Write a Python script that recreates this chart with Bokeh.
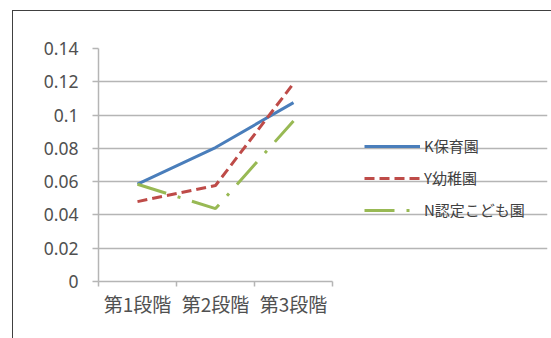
from bokeh.plotting import figure
from bokeh.models import Range1d, FixedTicker, Legend, LegendItem
from bokeh.embed import file_html
from bokeh.resources import INLINE

categories = ["第1段階", "第2段階", "第3段階"]
series_names = ["K保育園", "Y幼稚園", "N認定こども園"]
k_values = [0.0585, 0.0805, 0.1075]
y_values = [0.048, 0.0577, 0.1190]
n_values = [0.0584, 0.0438, 0.0965]
y_ticks = [0, 0.02, 0.04, 0.06, 0.08, 0.1, 0.12, 0.14]
y_tick_labels = ["0", "0.02", "0.04", "0.06", "0.08", "0.1", "0.12", "0.14"]

xs = [i + 1 for i in range(len(categories))]
n_cat = len(categories)

# layout: frame spans 449px, the category area uses 234px of it; legend sits in the rest
frame_w = 449
cat_w = 234
x_end = 0.5 + n_cat * frame_w / cat_w

p = figure(width=539, height=328, output_backend="svg", toolbar_location=None,
           x_range=Range1d(0.5, x_end), y_range=Range1d(0, 0.14),
           min_border_left=85, min_border_right=5, min_border_top=37, min_border_bottom=58,
           margin=(10, 0, 0, 12))
p.styles = {"border-left": "1px solid #404040", "border-top": "1px solid #404040"}
p.outline_line_color = None
p.background_fill_color = "white"
p.border_fill_color = "white"

# axes
p.xaxis.bounds = (0.5, n_cat + 0.5)
p.xaxis.ticker = FixedTicker(ticks=xs, minor_ticks=[x - 0.5 for x in xs] + [xs[-1] + 0.5])
p.xaxis.major_label_overrides = {x: c for x, c in zip(xs, categories)}
p.xaxis.major_tick_out = 0
p.xaxis.major_tick_in = 0
p.xaxis.minor_tick_out = 5
p.xaxis.minor_tick_in = 0
p.xaxis.minor_tick_line_color = "#B5B5B5"
p.xaxis.minor_tick_line_width = 1.5
p.xaxis.axis_line_color = "#B5B5B5"
p.xaxis.axis_line_width = 1.5
p.xaxis.major_label_text_font = "Noto Sans CJK JP"
p.xaxis.major_label_text_font_size = "19px"
p.xaxis.major_label_text_color = "#505050"
p.xaxis.major_label_standoff = 3

p.yaxis.ticker = FixedTicker(ticks=y_ticks, minor_ticks=[])
p.yaxis.major_label_overrides = {t: l for t, l in zip(y_ticks, y_tick_labels)}
p.yaxis.major_tick_out = 6
p.yaxis.major_tick_in = 0
p.yaxis.major_tick_line_color = "#B5B5B5"
p.yaxis.major_tick_line_width = 1.5
p.yaxis.axis_line_color = "#B5B5B5"
p.yaxis.axis_line_width = 1.5
p.yaxis.major_label_text_font = "Noto Sans"
p.yaxis.major_label_text_font_size = "17.5px"
p.yaxis.major_label_text_color = "#505050"
p.yaxis.major_label_standoff = 14

p.xgrid.visible = False
p.ygrid.ticker = FixedTicker(ticks=y_ticks)
p.ygrid.bounds = (0.5, n_cat + 0.5)
p.ygrid.grid_line_color = "#B5B5B5"
p.ygrid.grid_line_width = 1.5

r1 = p.line(xs, k_values, line_color="#4A7EBB", line_width=3)
r2 = p.line(xs, y_values, line_color="#BE4B48", line_width=3, line_dash="10 5")
r3 = p.line(xs, n_values, line_color="#98B954", line_width=3, line_dash="30 12 3 12")

legend = Legend(items=[LegendItem(label=series_names[0], renderers=[r1]),
                       LegendItem(label=series_names[1], renderers=[r2]),
                       LegendItem(label=series_names[2], renderers=[r3])],
                location=(266, 61), padding=0, margin=0, spacing=11,
                glyph_width=56, glyph_height=20, label_height=20, label_standoff=4,
                border_line_color=None, background_fill_alpha=0,
                label_text_font="Noto Sans CJK JP", label_text_font_size="15px",
                label_text_color="#404040")
p.add_layout(legend)

open("out.html", "w").write(file_html(p, INLINE))
